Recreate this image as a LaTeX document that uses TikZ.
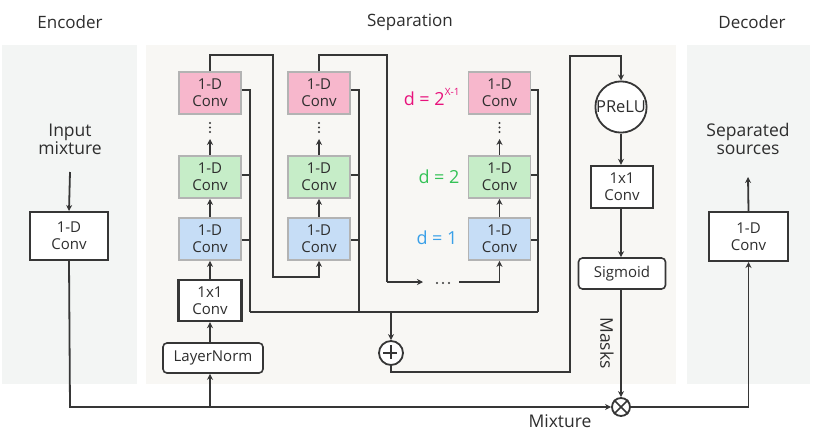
\documentclass[tikz,border=0pt]{standalone}
\usepackage{fontspec}
\setmainfont{Open Sans}
\usetikzlibrary{arrows.meta}
\definecolor{ln}{HTML}{363636}
\definecolor{panelA}{HTML}{F3F5F4}
\definecolor{panelB}{HTML}{F8F7F4}
\definecolor{pinkF}{HTML}{F7B7CC}
\definecolor{greenF}{HTML}{C6EDC8}
\definecolor{blueF}{HTML}{C6DDF6}
\definecolor{boxE}{HTML}{B3B3B3}
\definecolor{magT}{HTML}{E8127C}
\definecolor{grnT}{HTML}{35C257}
\definecolor{bluT}{HTML}{3AA0E8}
\definecolor{txt}{HTML}{2E2E2E}
\tikzset{
  conn/.style={draw=ln, line width=1.8pt},
  arr/.style={conn, -{Stealth[length=6pt,width=6pt]}},
  cbox/.style={draw=boxE, line width=1.8pt, minimum width=62pt, minimum height=42pt, inner sep=0pt, align=center, font=\fontsize{15}{17}\selectfont, text=txt},
  wbox/.style={draw=ln, fill=white, line width=2pt, inner sep=0pt, align=center, font=\fontsize{15}{17}\selectfont, text=txt},
  rbox/.style={wbox, line width=1.6pt, rounded corners=4pt},
  title/.style={font=\fontsize{17}{19}\selectfont, text=txt, align=center},
  lbl/.style={font=\fontsize{17.5}{18}\selectfont, text=txt, align=center},
  dlbl/.style={font=\fontsize{18}{20}\selectfont, anchor=east},
}
\begin{document}
\begin{tikzpicture}[x=1pt,y=-1pt]
\useasboundingbox[fill=white] (0,0) rectangle (826,439);
% panels
\fill[panelA] (2,45) rectangle (137,384);
\fill[panelB] (146,45) rectangle (676,384);
\fill[panelA] (687,45) rectangle (810,384);
% titles
\node[title] (tenc) at (70,22) {Encoder};
\node[title] (tsep) at (410,22) {Separation};
\node[title] (tdec) at (752,22) {Decoder};
% encoder
\node[lbl] (inmix) at (70,139) {Input\\mixture};
\node[wbox, minimum width=78pt, minimum height=48pt] (enc) at (69,236) {1-D\\Conv};
\coordinate (inA) at (70,172);
\draw[arr] (inA) -- (enc.north);
% decoder
\node[lbl] (sepsrc) at (748,139) {Separated\\sources};
\node[wbox, minimum width=79pt, minimum height=49pt] (dec) at (748.5,236.5) {1-D\\Conv};
\coordinate (outA) at (748,177);
\draw[arr] (dec.north) -- (outA);
% column 1
\node[cbox, fill=pinkF] (p1) at (210,93) {1-D\\Conv};
\node[cbox, fill=greenF] (g1) at (210,177) {1-D\\Conv};
\node[cbox, fill=blueF] (b1) at (210,239) {1-D\\Conv};
% column 2
\node[cbox, fill=pinkF] (p2) at (319,93) {1-D\\Conv};
\node[cbox, fill=greenF] (g2) at (319,177) {1-D\\Conv};
\node[cbox, fill=blueF] (b2) at (319,239) {1-D\\Conv};
% column 3
\node[cbox, fill=pinkF] (p3) at (499.5,93) {1-D\\Conv};
\node[cbox, fill=greenF] (g3) at (499.5,177) {1-D\\Conv};
\node[cbox, fill=blueF] (b3) at (499.5,239) {1-D\\Conv};
% d labels
\node[dlbl, text=magT] (d3) at (463,97) {d = 2\raisebox{0.55em}{\fontsize{10}{10}\selectfont X-1}};
\node[dlbl, text=grnT] (d2) at (463,177) {d = 2};
\node[dlbl, text=bluT] (d1) at (461,238) {d = 1};
% dots and inner arrows
\foreach \cx/\g/\b in {210/g1/b1, 319/g2/b2, 499.5/g3/b3}{
  \fill[ln] (\cx,123) circle (1.2pt);
  \fill[ln] (\cx,127.5) circle (1.2pt);
  \fill[ln] (\cx,132) circle (1.2pt);
  \coordinate (dt) at (\cx,139);
  \draw[arr] (\g.north) -- (dt);
  \draw[arr] (\b.north) -- (\g.south);
}
% 1x1 conv and layernorm
\node[wbox, line width=2.4pt, minimum width=63pt, minimum height=41pt] (c11) at (210,300.5) {1x1\\Conv};
\node[rbox, minimum width=100pt, minimum height=30pt] (lnorm) at (213,358) {LayerNorm};
\draw[arr] (c11.north) -- (b1.south);
\draw[arr] (lnorm.north -| c11) -- (c11.south);
% right-side residual lines
\coordinate (s1) at (250,312);
\coordinate (s2) at (359,312);
\coordinate (s3) at (538,312);
\foreach \col/\x in {1/250, 2/359, 3/538}{
  \draw[conn] (p\col.east |- 0,90) -| (\x,312);
  \draw[conn] (g\col.east |- 0,175) -- (\x,175);
  \draw[conn] (b\col.east |- 0,240) -- (\x,240);
}
\draw[conn] (s1) -- (s3);
% skip loops
\coordinate (k1) at (273,55);
\draw[arr] (p1.north) |- (k1) |- (273,277) -| (b2.south);
\coordinate (k2) at (387,55);
\coordinate (k2e) at (423,282);
\draw[conn] (p2.north) |- (k2) -- (387,282);
\draw[arr] (387,282) -- (k2e);
\foreach \dx in {437,443,449}{\fill[ln] (\dx,283) circle (1.2pt);}
\coordinate (k3) at (459,282);
\draw[arr] (k3) -| (b3.south);
% sum
\node[circle, draw=ln, fill=white, line width=1.8pt, minimum size=24pt, inner sep=0pt] (sum) at (391,353) {};
\draw[ln, line width=1.8pt] (sum.north) ++(0,5) -- ++(0,14);
\draw[ln, line width=1.8pt] (sum.west) ++(5,0) -- ++(14,0);
\coordinate (sA) at (391,312);
\draw[arr] (sA) -- (sum.north);
% mask branch
\node[circle, draw=ln, fill=white, line width=1.8pt, minimum size=50pt, inner sep=0pt, font=\fontsize{16.5}{18}\selectfont, text=txt] (prelu) at (621,107) {PReLU};
\node[wbox, line width=2.4pt, minimum width=62pt, minimum height=42pt] (c12) at (622,187) {1x1\\Conv};
\node[rbox, minimum width=87pt, minimum height=31pt] (sig) at (622,273.5) {Sigmoid};
\draw[arr] (sum.south) |- (570,372) |- (621,56) -- (prelu.north);
\draw[arr] (prelu.south) -- (prelu.south |- c12.north);
\draw[arr] (c12.south -| prelu) -- (sig.north -| prelu);
% multiply
\node[circle, draw=ln, fill=white, line width=1.8pt, minimum size=18pt, inner sep=0pt] (mul) at (621,407) {};
\draw[ln, line width=1.5pt] (mul.north west) -- (mul.south east);
\draw[ln, line width=1.5pt] (mul.north east) -- (mul.south west);
\draw[arr] (sig.south -| mul) -- (mul.north);
\node[lbl, rotate=-90] (masks) at (607,343) {Masks};
% mixture lines
\coordinate (mx) at (70,407);
\draw[arr] (enc.south) -- (mx) -- (mul.west);
\coordinate (ln0) at (210,407);
\draw[arr] (ln0) -- (lnorm.south -| c11);
\draw[arr] (mul.east) -| (dec.south);
\node[lbl] (mixl) at (560,421) {Mixture};
\end{tikzpicture}
\end{document}
